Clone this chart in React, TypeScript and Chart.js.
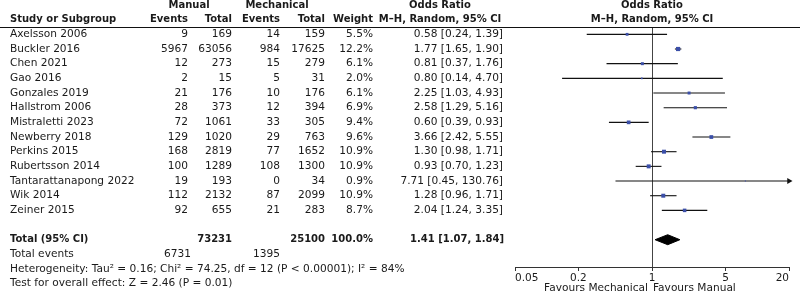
import React, { useEffect, useRef } from "react";
import { Chart, registerables } from "chart.js";

Chart.register(...registerables);

const STUDIES = [
  "Axelsson 2006",
  "Buckler 2016",
  "Chen 2021",
  "Gao 2016",
  "Gonzales 2019",
  "Hallstrom 2006",
  "Mistraletti 2023",
  "Newberry 2018",
  "Perkins 2015",
  "Rubertsson 2014",
  "Tantarattanapong 2022",
  "Wik 2014",
  "Zeiner 2015",
];
const MANUAL_EVENTS = [9, 5967, 12, 2, 21, 28, 72, 129, 168, 100, 19, 112, 92];
const MANUAL_TOTAL = [169, 63056, 273, 15, 176, 373, 1061, 1020, 2819, 1289, 193, 2132, 655];
const MECH_EVENTS = [14, 984, 15, 5, 10, 12, 33, 29, 77, 108, 0, 87, 21];
const MECH_TOTAL = [159, 17625, 279, 31, 176, 394, 305, 763, 1652, 1300, 34, 2099, 283];
const WEIGHTS = [5.5, 12.2, 6.1, 2.0, 6.1, 6.9, 9.4, 9.6, 10.9, 10.9, 0.9, 10.9, 8.7];
const ODDS = [0.58, 1.77, 0.81, 0.8, 2.25, 2.58, 0.6, 3.66, 1.3, 0.93, 7.71, 1.28, 2.04];
const CI_LOW = [0.24, 1.65, 0.37, 0.14, 1.03, 1.29, 0.39, 2.42, 0.98, 0.7, 0.45, 0.96, 1.24];
const CI_HIGH = [1.39, 1.9, 1.76, 4.7, 4.93, 5.16, 0.93, 5.55, 1.71, 1.23, 130.76, 1.71, 3.35];

const TOTALS = [73231, 25100];
const TOTAL_EVENTS = [6731, 1395];
const POOLED = [1.41, 1.07, 1.84];
const X_TICKS = [0.05, 0.2, 1, 5, 20];

const HETEROGENEITY = "Heterogeneity: Tau\u00B2 = 0.16; Chi\u00B2 = 74.25, df = 12 (P < 0.00001); I\u00B2 = 84%";
const OVERALL = "Test for overall effect: Z = 2.46 (P = 0.01)";

const FONT_FAMILY = "'DejaVu Sans', sans-serif";
const FONT_SIZE = 10.6;
const BOLD_SIZE = 10;
const TEXT = "#1a1a1a";
const SQUARE = "#3b4fa8";

const X_MIN = X_TICKS[0];
const X_MAX = X_TICKS[X_TICKS.length - 1];
const TOTAL_ROW = STUDIES.length + 1;

const fmt = (v: number) => v.toFixed(2);

const tablePlugin = {
  id: "forestTable",
  beforeDatasetsDraw(chart: any) {
    const { ctx, chartArea, scales } = chart;
    const px = Math.round(scales.x.getPixelForValue(1)) + 0.5;
    ctx.save();
    ctx.strokeStyle = "#444";
    ctx.lineWidth = 1;
    ctx.beginPath();
    ctx.moveTo(px, chartArea.top);
    ctx.lineTo(px, chartArea.bottom);
    ctx.stroke();
    ctx.restore();
  },
  afterDraw(chart: any) {
    const { ctx, scales, width } = chart;
    const y = (r: number) => scales.y.getPixelForValue(r);
    const x1 = scales.x.getPixelForValue(1);
    const normal = `${FONT_SIZE}px ${FONT_FAMILY}`;
    const bold = `bold ${BOLD_SIZE}px ${FONT_FAMILY}`;
    ctx.save();
    ctx.fillStyle = TEXT;
    ctx.textBaseline = "middle";
    const t = (s: string, xx: number, yy: number, align: CanvasTextAlign, f: string) => {
      ctx.font = f;
      ctx.textAlign = align;
      ctx.fillText(s, xx, yy);
    };
    // header line
    ctx.strokeStyle = "#111";
    ctx.lineWidth = 1;
    const hy = Math.round(y(-0.5)) + 0.5;
    ctx.beginPath();
    ctx.moveTo(0, hy);
    ctx.lineTo(width, hy);
    ctx.stroke();

    const h1 = y(-2);
    const h2 = y(-1);
    t("Manual", 189, h1, "center", bold);
    t("Mechanical", 277, h1, "center", bold);
    t("Odds Ratio", 440, h1, "center", bold);
    t("Odds Ratio", x1, h1, "center", bold);
    t("Study or Subgroup", 10, h2, "left", bold);
    t("Events", 188, h2, "right", bold);
    t("Total", 232, h2, "right", bold);
    t("Events", 280, h2, "right", bold);
    t("Total", 325, h2, "right", bold);
    t("Weight", 373, h2, "right", bold);
    t("M\u2013H, Random, 95% CI", 440, h2, "center", bold);
    t("M\u2013H, Random, 95% CI", x1, h2, "center", bold);

    STUDIES.forEach((s, i) => {
      const yy = y(i);
      t(s, 10, yy, "left", normal);
      t(String(MANUAL_EVENTS[i]), 188, yy, "right", normal);
      t(String(MANUAL_TOTAL[i]), 232, yy, "right", normal);
      t(String(MECH_EVENTS[i]), 280, yy, "right", normal);
      t(String(MECH_TOTAL[i]), 325, yy, "right", normal);
      t(WEIGHTS[i].toFixed(1) + "%", 373, yy, "right", normal);
      t(`${fmt(ODDS[i])} [${fmt(CI_LOW[i])}, ${fmt(CI_HIGH[i])}]`, 503, yy, "right", normal);
    });

    const ty = y(TOTAL_ROW);
    t("Total (95% CI)", 10, ty, "left", bold);
    t(String(TOTALS[0]), 232, ty, "right", bold);
    t(String(TOTALS[1]), 325, ty, "right", bold);
    t("100.0%", 373, ty, "right", bold);
    t(`${fmt(POOLED[0])} [${fmt(POOLED[1])}, ${fmt(POOLED[2])}]`, 504, ty, "right", bold);

    t("Total events", 10, y(TOTAL_ROW + 1), "left", normal);
    t(String(TOTAL_EVENTS[0]), 191, y(TOTAL_ROW + 1), "right", normal);
    t(String(TOTAL_EVENTS[1]), 280, y(TOTAL_ROW + 1), "right", normal);
    t(HETEROGENEITY, 10, y(TOTAL_ROW + 2), "left", normal);
    t(OVERALL, 10, y(TOTAL_ROW + 3), "left", normal);

    const fy = scales.x.bottom - 5.5;
    t("Favours Mechanical", x1 - 4, fy, "right", normal);
    t("Favours Manual", x1 + 1, fy, "left", normal);
    ctx.restore();
  },
};

export default function App() {
  const ref = useRef<HTMLCanvasElement | null>(null);

  useEffect(() => {
    document.body.style.margin = "0";
    const canvas = ref.current;
    if (!canvas) return;

    const ciSets = STUDIES.map((_, i) => ({
      type: "scatter" as const,
      showLine: true,
      data: [
        { x: Math.max(CI_LOW[i], X_MIN), y: i },
        { x: Math.min(CI_HIGH[i], X_MAX), y: i },
      ],
      borderColor: "#111",
      borderWidth: 1.1,
      pointRadius: 0,
      order: 2,
    }));

    const squares = {
      type: "scatter" as const,
      data: ODDS.map((v, i) => ({ x: v, y: i })),
      pointStyle: "rect",
      pointRadius: WEIGHTS.map((w) => Math.sqrt(w) * 0.85),
      backgroundColor: SQUARE,
      borderColor: SQUARE,
      borderWidth: 0,
      order: 1,
    };

    const diamondHalf = 0.34;
    const diamond = {
      type: "line" as const,
      data: [
        { x: POOLED[1], y: TOTAL_ROW },
        { x: POOLED[0], y: TOTAL_ROW - diamondHalf },
        { x: POOLED[2], y: TOTAL_ROW },
        { x: POOLED[0], y: TOTAL_ROW + diamondHalf },
        { x: POOLED[1], y: TOTAL_ROW },
      ],
      borderColor: "#000",
      backgroundColor: "#000",
      borderWidth: 1,
      pointRadius: 0,
      fill: "shape",
      tension: 0,
      order: 1,
    };

    const arrows = {
      type: "scatter" as const,
      data: STUDIES.map((_, i) => i)
        .filter((i) => CI_HIGH[i] > X_MAX)
        .map((i) => ({ x: X_MAX, y: i })),
      pointStyle: "triangle",
      rotation: 90,
      pointRadius: 3.5,
      backgroundColor: "#111",
      borderColor: "#111",
      borderWidth: 0,
      clip: false,
      order: 0,
    };

    const chart = new Chart(canvas, {
      type: "scatter",
      data: { datasets: [...ciSets, squares, diamond, arrows] as any },
      options: {
        animation: false,
        responsive: false,
        maintainAspectRatio: false,
        layout: { padding: { left: 515, right: 11, top: 27, bottom: 0 } },
        plugins: { legend: { display: false }, tooltip: { enabled: false } },
        scales: {
          x: {
            type: "logarithmic",
            min: X_MIN,
            max: X_MAX,
            afterBuildTicks: (s: any) => {
              s.ticks = X_TICKS.map((v) => ({ value: v }));
            },
            afterFit: (s: any) => {
              s.height = 27;
            },
            ticks: {
              align: "inner",
              autoSkip: false,
              maxRotation: 0,
              padding: 1,
              color: TEXT,
              font: { family: FONT_FAMILY, size: 10.5 },
              callback: (v: any) => String(v),
            },
            grid: { drawOnChartArea: false, tickLength: 4, color: "#333" },
            border: { color: "#333", width: 1 },
          },
          y: { type: "linear", display: false, reverse: true, min: -0.5, max: 15.86 },
        },
      } as any,
      plugins: [tablePlugin],
    });
    return () => chart.destroy();
  }, []);

  return <canvas ref={ref} width={800} height={294} style={{ display: "block", width: 800, height: 294 }} />;
}
